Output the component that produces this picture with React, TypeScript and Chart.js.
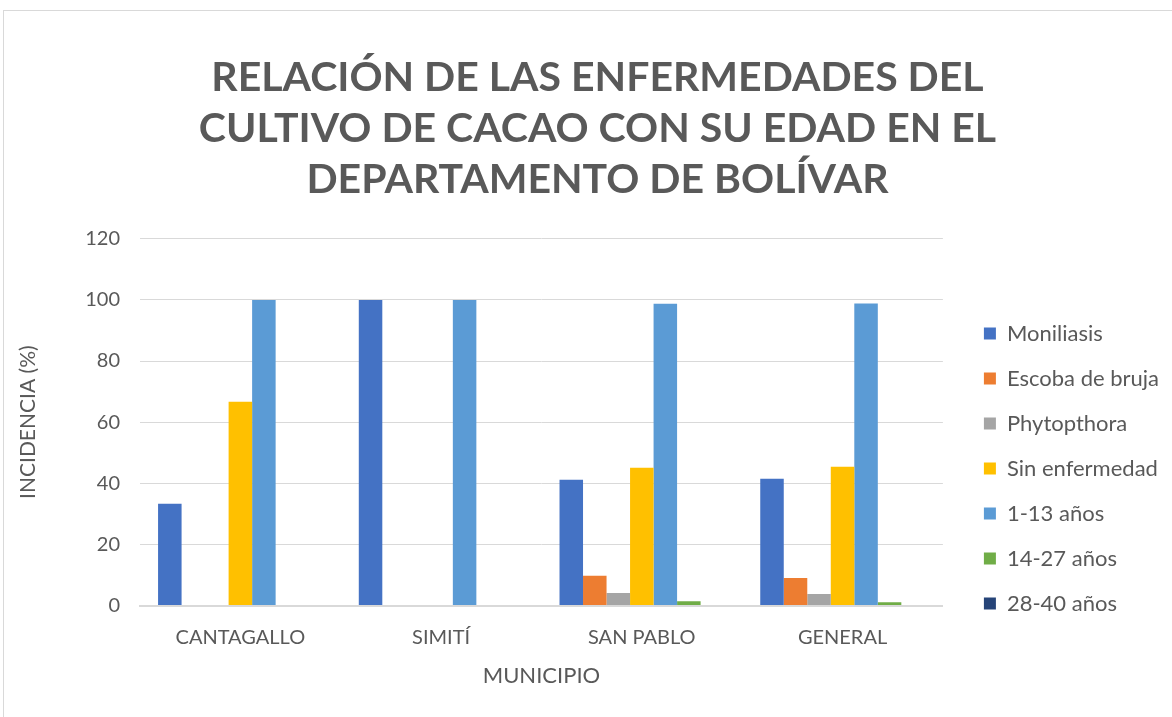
import React, { useEffect, useRef } from "react";
import { Chart, registerables } from "chart.js";

Chart.register(...registerables);

const categories = ["CANTAGALLO", "SIMITÍ", "SAN PABLO", "GENERAL"];
const moniliasis = [33.3, 100, 41.2, 41.5];
const escobaDeBruja = [0, 0, 9.8, 9.0];
const phytopthora = [0, 0, 4.1, 3.8];
const sinEnfermedad = [66.7, 0, 45.1, 45.4];
const anios1a13 = [100, 100, 98.7, 98.8];
const anios14a27 = [0, 0, 1.4, 1.1];
const anios28a40 = [0, 0, 0, 0];
const yTicks = [0, 20, 40, 60, 80, 100, 120];
const titleLines = [
  "RELACIÓN DE LAS ENFERMEDADES DEL",
  "CULTIVO DE CACAO CON SU EDAD EN EL",
  "DEPARTAMENTO DE BOLÍVAR",
];

const seriesNames = [
  "Moniliasis",
  "Escoba de bruja",
  "Phytopthora",
  "Sin enfermedad",
  "1-13 años",
  "14-27 años",
  "28-40 años",
];
const seriesData = [moniliasis, escobaDeBruja, phytopthora, sinEnfermedad, anios1a13, anios14a27, anios28a40];
const colors = ["#4472C4", "#ED7D31", "#A5A5A5", "#FFC000", "#5B9BD5", "#70AD47", "#264478"];

const FONT = "Lato, 'Open Sans', sans-serif";
const GRAY = "#595959";

export default function App() {
  const ref = useRef<HTMLCanvasElement | null>(null);

  useEffect(() => {
    document.body.style.margin = "0";
    if (!ref.current) return;
    let alive = true;
    const chart = new Chart(ref.current, {
      type: "bar",
      data: {
        labels: categories,
        datasets: seriesNames.map((name, i) => ({
          label: name,
          data: seriesData[i],
          backgroundColor: colors[i],
          borderWidth: 0,
          barPercentage: 1,
          categoryPercentage: 0.82,
        })),
      },
      options: {
        animation: false,
        responsive: false,
        maintainAspectRatio: false,
        layout: { padding: { left: 16, right: 3, top: 0, bottom: 28 } },
        plugins: {
          title: {
            display: true,
            text: titleLines.map((t) => " " + t),
            color: GRAY,
            font: { family: FONT, size: 41, weight: "bold", lineHeight: 1.25 },
            padding: { top: 52, bottom: 33 },
          },
          legend: {
            display: true,
            position: "right",
            maxWidth: 300,
            title: {
              display: true,
              text: " ",
              font: { family: FONT, size: 10, lineHeight: 1 },
              padding: { top: 0, bottom: 238 },
            },
            labels: {
              boxWidth: 12,
              boxHeight: 12,
              padding: 23,
              color: GRAY,
              font: { family: FONT, size: 22 },
            },
          },
          tooltip: { enabled: false },
        },
        scales: {
          x: {
            grid: { display: false, drawTicks: false },
            border: { display: true, color: "#d9d9d9", width: 2 },
            ticks: { color: GRAY, font: { family: FONT, size: 20 }, padding: 20 },
            title: {
              display: true,
              text: "MUNICIPIO",
              color: GRAY,
              font: { family: FONT, size: 22 },
              padding: { top: -7, bottom: 0 },
            },
          },
          y: {
            min: 0,
            max: 120,
            afterBuildTicks: (axis: any) => {
              axis.ticks = yTicks.map((v) => ({ value: v }));
            },
            grid: { color: "#d9d9d9", drawTicks: false, lineWidth: 1 },
            border: { display: false },
            ticks: { color: GRAY, font: { family: FONT, size: 20 }, padding: 20 },
            title: {
              display: true,
              text: "INCIDENCIA (%)",
              color: GRAY,
              font: { family: FONT, size: 21 },
              padding: { top: 0, bottom: 24 },
            },
          },
          yGap: {
            position: "right",
            min: 0,
            max: 120,
            grid: { display: false, drawTicks: false },
            border: { display: false },
            ticks: { display: false },
            afterFit: (axis: any) => {
              axis.width = 18;
            },
          },
        },
      },
    });
    const fonts = (document as any).fonts;
    if (fonts) {
      Promise.all([
        fonts.load("22px Lato"),
        fonts.load("bold 41px Lato"),
        fonts.load("20px Lato"),
      ])
        .then(() => fonts.ready)
        .then(() => {
          if (alive) chart.update();
        })
        .catch(() => {});
    }
    return () => {
      alive = false;
      chart.destroy();
    };
  }, []);

  return (
    <div style={{ position: "relative", width: 1172, height: 717, overflow: "hidden", background: "#fff" }}>
      <div
        style={{
          position: "absolute",
          left: 3,
          top: 10,
          width: 1200,
          height: 800,
          border: "1px solid #d9d9d9",
          boxSizing: "border-box",
        }}
      />
      <canvas ref={ref} width={1172} height={717} style={{ position: "absolute", left: 0, top: 0 }} />
    </div>
  );
}
